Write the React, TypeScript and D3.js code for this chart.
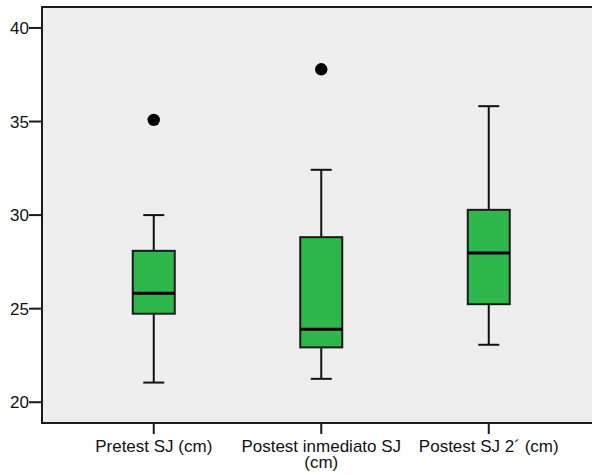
import React from 'react';
import * as d3 from 'd3';

const categories = ['Pretest SJ (cm)', 'Postest inmediato SJ (cm)', 'Postest SJ 2´ (cm)'];
const labelLines = [['Pretest SJ (cm)'], ['Postest inmediato SJ', '(cm)'], ['Postest SJ 2´ (cm)']];
const whiskerLow = [21.05, 21.25, 23.07];
const q1 = [24.73, 22.93, 25.24];
const median = [25.83, 23.9, 27.97];
const q3 = [28.09, 28.82, 30.28];
const whiskerHigh = [30.0, 32.42, 35.82];
const outliers = [[35.09], [37.79], []];
const yTicks = [20, 25, 30, 35, 40];

const W = 592;
const H = 475;
const plotLeft = 42;
const plotTop = 7;
const plotBottom = 423;
const plotRight = 620;

const App = () => {
  const y = d3.scaleLinear().domain([18.89, 41.12]).range([plotBottom, plotTop]);
  const x = d3.scaleBand<string>().domain(categories).range([70, 572.5]);
  const cx = (c: string) => (x(c) ?? 0) + x.bandwidth() / 2;
  const boxW = 42;
  const capW = 21;
  const font = 'Arial, "Liberation Sans", sans-serif';

  return (
    <svg width={W} height={H} style={{ position: 'absolute', left: 0, top: 0 }}>
      <rect x={plotLeft} y={plotTop} width={plotRight - plotLeft} height={plotBottom - plotTop}
        fill="#eeeeee" stroke="#1a1a1a" strokeWidth={2} />

      {/* y axis */}
      {yTicks.map(t => (
        <g key={t}>
          <line x1={plotLeft - 13} x2={plotLeft} y1={y(t)} y2={y(t)} stroke="#1a1a1a" strokeWidth={2} />
          <text x={plotLeft - 13} y={y(t)} dy="0.36em" textAnchor="end" fontSize={17} fontFamily={font} fill="#111">{t}</text>
        </g>
      ))}

      {/* x axis */}
      {categories.map((c, i) => (
        <g key={c}>
          <line x1={cx(c)} x2={cx(c)} y1={plotBottom} y2={plotBottom + 11} stroke="#1a1a1a" strokeWidth={2} />
          {labelLines[i].map((ln, j) => (
            <text key={j} x={cx(c)} y={452 + j * 15.5} textAnchor="middle" fontSize={17} fontFamily={font} fill="#111">{ln}</text>
          ))}
        </g>
      ))}

      {/* boxes */}
      {categories.map((c, i) => {
        const m = cx(c);
        return (
          <g key={c}>
            <line x1={m} x2={m} y1={y(whiskerHigh[i])} y2={y(q3[i])} stroke="#111" strokeWidth={2} />
            <line x1={m} x2={m} y1={y(q1[i])} y2={y(whiskerLow[i])} stroke="#111" strokeWidth={2} />
            <line x1={m - capW / 2} x2={m + capW / 2} y1={y(whiskerHigh[i])} y2={y(whiskerHigh[i])} stroke="#111" strokeWidth={2} />
            <line x1={m - capW / 2} x2={m + capW / 2} y1={y(whiskerLow[i])} y2={y(whiskerLow[i])} stroke="#111" strokeWidth={2} />
            <rect x={m - boxW / 2} y={y(q3[i])} width={boxW} height={y(q1[i]) - y(q3[i])}
              fill="#2eb84b" stroke="#1a1a1a" strokeWidth={2} />
            <line x1={m - boxW / 2} x2={m + boxW / 2} y1={y(median[i])} y2={y(median[i])} stroke="#000" strokeWidth={3} />
            {outliers[i].map((o, k) => (
              <circle key={k} cx={m} cy={y(o)} r={6.2} fill="#000" />
            ))}
          </g>
        );
      })}
    </svg>
  );
};

export default App;
